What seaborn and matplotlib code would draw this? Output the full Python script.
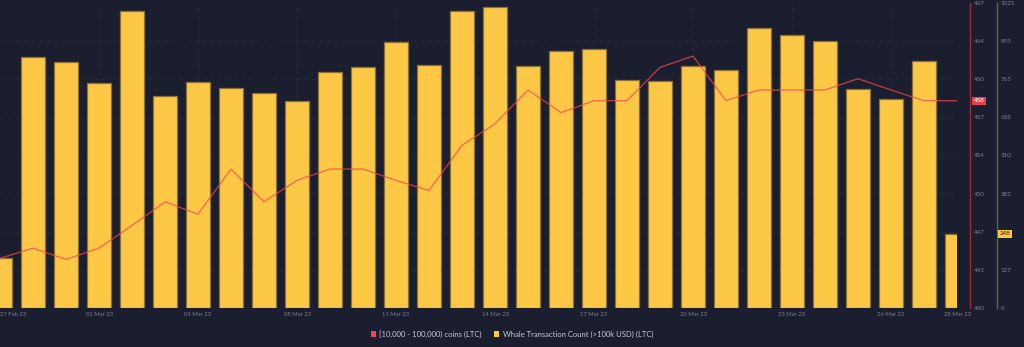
import numpy as np
import pandas as pd
import matplotlib
matplotlib.use("Agg")
import matplotlib.pyplot as plt
import matplotlib.transforms as mtransforms
from matplotlib.patches import Patch
import seaborn as sns

# ---- data ----
dates = pd.date_range("2023-02-27", "2023-03-28", freq="D")
whale_tx = [168, 839, 822, 752, 993, 710, 755, 735, 720, 694,
            789, 807, 890, 814, 994, 1009, 809, 859, 866, 763,
            759, 809, 797, 936, 913, 895, 732, 700, 828, 248]
holders = [444.4, 445.3, 444.3, 445.3, 447.3, 449.4, 448.3, 452.3, 449.4, 451.3,
           452.3, 452.3, 451.3, 450.4, 454.4, 456.3, 459.3, 457.3, 458.35, 458.35,
           461.3, 462.3, 458.35, 459.3, 459.3, 459.3, 460.3, 459.3, 458.35, 458.35]
date_tick_pos = [0, 3, 6, 9, 12, 15, 18, 21, 24, 27, 29]
date_tick_labels = ["27 Feb 23", "02 Mar 23", "05 Mar 23", "08 Mar 23", "11 Mar 23",
                    "14 Mar 23", "17 Mar 23", "20 Mar 23", "23 Mar 23", "26 Mar 23", "28 Mar 23"]
whale_ticks = [0, 127, 255, 382, 510, 638, 765, 893, 1021]
whale_max = 1021
holder_ticks = [440, 443, 447, 450, 454, 457, 460, 464, 467]
holder_min, holder_max = 440, 467
series_names = ["[10,000 - 100,000) coins (LTC)", "Whale Transaction Count (>100k USD) (LTC)"]

# ---- style ----
BG = "#1b1e2e"
BAR = "#fec847"
BAR_EDGE = "#8c7232"
LINE = "#f2464f"
TICK_C = "#7c7f8e"
GRID_C = "#262a3c"

sns.set_theme(style="dark")
plt.rcParams["font.family"] = ["Lato", "DejaVu Sans"]

W, H = 1024, 347
fig = plt.figure(figsize=(W / 100, H / 100), dpi=100, facecolor=BG)
ax = fig.add_axes([0, 1 - 308 / H, 957 / W, 305 / H])
ax.set_facecolor(BG)

df = pd.DataFrame({"idx": np.arange(len(dates)), "whale": whale_tx, "holders": holders})

sns.barplot(data=df, x="idx", y="whale", ax=ax, color=BAR, width=0.73,
            edgecolor=BAR_EDGE, linewidth=0.9, saturation=1, zorder=2)
for p in ax.patches:
    p.set_facecolor(BAR)

ax.set_xlim(0, len(dates) - 1)
ax.set_ylim(0, whale_max)
ax.set_xlabel("")
ax.set_ylabel("")

# grid lines
yt = np.linspace(0, whale_max, 9)
for y in yt[1:-1]:
    ax.axhline(y, color=GRID_C, lw=0.7, ls=(0, (4, 4)), zorder=0)
for x in date_tick_pos[1:-1]:
    ax.axvline(x, color=GRID_C, lw=0.7, ls=(0, (4, 4)), zorder=0)

# line axis
ax2 = ax.twinx()
sns.lineplot(data=df, x="idx", y="holders", ax=ax2, color=LINE, alpha=0.7, lw=1.0, zorder=3)
ax2.set_ylim(holder_min, holder_max)
ax2.set_xlim(0, len(dates) - 1)
ax2.set_ylabel("")
ax2.set_xlabel("")
for s in ["top", "left", "bottom"]:
    ax2.spines[s].set_visible(False)
ax2.spines["right"].set_position(("outward", 13 * 72 / 100))
ax2.spines["right"].set_color("#962d39")
ax2.spines["right"].set_linewidth(1.0)
ax2.set_yticks(np.linspace(holder_min, holder_max, 9))
ax2.set_yticklabels([str(t) for t in holder_ticks])
ax2.tick_params(axis="y", length=0, pad=2.5, labelsize=4.5, labelcolor=TICK_C)

# bar axis on right, outer (after twinx, which moves ax ticks to the left)
for s in ["top", "left", "bottom"]:
    ax.spines[s].set_visible(False)
ax.spines["right"].set_visible(True)
ax.spines["right"].set_position(("outward", 40 * 72 / 100))
ax.spines["right"].set_color("#6e6340")
ax.spines["right"].set_linewidth(1.0)
ax.yaxis.tick_right()
ax.set_yticks(yt)
ax.set_yticklabels([str(t) for t in whale_ticks])
ax.tick_params(axis="y", length=0, pad=2.5, labelsize=4.5, labelcolor=TICK_C,
               left=False, labelleft=False, right=True, labelright=True)

# x ticks
ax.set_xticks(date_tick_pos)
ax.set_xticklabels(date_tick_labels)
ax.tick_params(axis="x", length=0, pad=3, labelsize=4.2, labelcolor=TICK_C)
ax.get_xticklabels()[0].set_horizontalalignment("left")

# value badges
tr2 = mtransforms.blended_transform_factory(ax2.transAxes, ax2.transData)
ax2.text(979 / 957, holders[-1], "458", transform=tr2, fontsize=4.5, color="white",
         ha="center", va="center", clip_on=False, zorder=10,
         bbox=dict(boxstyle="square,pad=0.25", fc="#e0444f", ec="none"))
tr1 = mtransforms.blended_transform_factory(ax2.transAxes, ax.transData)
ax2.text(1005 / 957, whale_tx[-1], "248", transform=tr1,
         fontsize=4.5, color="#1b1e2e", ha="center", va="center", clip_on=False, zorder=10,
         bbox=dict(boxstyle="square,pad=0.25", fc=BAR, ec="none"))

# legend
handles = [Patch(facecolor=LINE, edgecolor="none"), Patch(facecolor=BAR, edgecolor="none")]
leg = fig.legend(handles, series_names, loc="center", bbox_to_anchor=(0.5, 1 - 334 / H),
                 ncol=2, frameon=False, fontsize=5.5, handlelength=0.7, handleheight=0.7,
                 handletextpad=0.4, columnspacing=1.6, labelcolor="#c8cad2")

fig.savefig("out.png", dpi=100, facecolor=BG)
